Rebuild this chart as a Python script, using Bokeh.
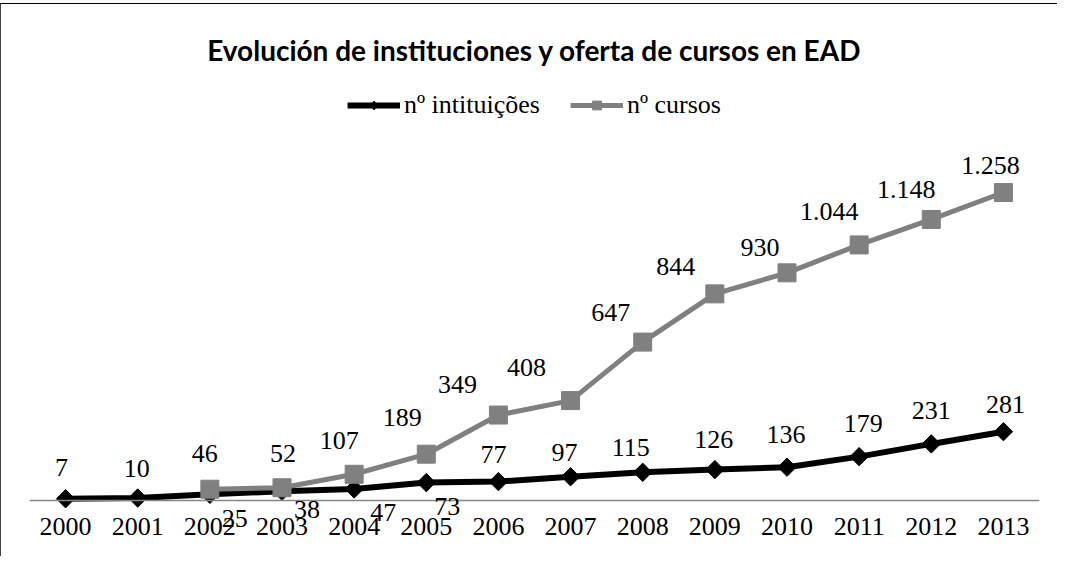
from bokeh.plotting import figure
from bokeh.models import ColumnDataSource, Legend, LegendItem, FactorRange, Range1d, LabelSet
from bokeh.embed import file_html
from bokeh.resources import INLINE
from bokeh.core.properties import value

# ---- data ----
years = ["2000", "2001", "2002", "2003", "2004", "2005", "2006",
         "2007", "2008", "2009", "2010", "2011", "2012", "2013"]
instituicoes = [7, 10, 25, 38, 47, 73, 77, 97, 115, 126, 136, 179, 231, 281]
curso_years = ["2002", "2003", "2004", "2005", "2006", "2007",
               "2008", "2009", "2010", "2011", "2012", "2013"]
cursos = [46, 52, 107, 189, 349, 408, 647, 844, 930, 1044, 1148, 1258]

# label offsets (screen px; dx right, dy up)
inst_dx = [-4, -1, 25, 25, 29, 21, -5, -6, -12, -1, -1, 4, 0, 2]
inst_dy = [31, 30, -24, -18, -24, -24, 27, 24, 25, 30, 33, 33, 33, 27]
curs_dx = [-5, 1, -15, -24, -41, -44, -32, -39, -27, -30, -25, -13]
curs_dy = [36, 34, 34, 37, 31, 33, 30, 27, 25, 33, 30, 27]


def fmt(v):
    return f"{v:,}".replace(",", ".")


SERIF = "Liberation Serif"
FS = "26px"

src_i = ColumnDataSource(dict(x=years, y=instituicoes,
                              lab=[fmt(v) for v in instituicoes],
                              dx=inst_dx, dy=inst_dy))
src_c = ColumnDataSource(dict(x=curso_years, y=cursos,
                              lab=[fmt(v) for v in cursos],
                              dx=curs_dx, dy=curs_dy))

p = figure(width=1057, height=553, output_backend="svg", toolbar_location=None,
           x_range=FactorRange(factors=years, range_padding=0),
           y_range=Range1d(-233, 1732),
           min_border_left=28, min_border_right=19, min_border_bottom=0,
           min_border_top=72,
           styles={"border-top": "1.5px solid #000000",
                   "border-left": "1.5px solid #404040",
                   "margin-top": "3px"})

p.title.text = "Evolución de instituciones y oferta de cursos en EAD"
p.title.align = "center"
p.title.text_font = "Lato"
p.title.text_font_style = "bold"
p.title.text_font_size = "28px"
p.title.text_color = "#000000"
p.title.standoff = 19

p.outline_line_color = None
p.grid.visible = False
p.yaxis.visible = False
p.background_fill_color = "white"
p.border_fill_color = "white"

xa = p.xaxis[0]
xa.fixed_location = 0
xa.axis_line_color = "#868686"
xa.axis_line_width = 1.5
xa.major_tick_line_color = None
xa.minor_tick_line_color = None
xa.major_tick_in = 0
xa.major_tick_out = 0
xa.major_label_text_font = SERIF
xa.major_label_text_font_size = FS
xa.major_label_text_color = "#000000"
xa.major_label_standoff = 18

l1 = p.line("x", "y", source=src_i, line_color="#000000", line_width=6)
m1 = p.scatter("x", "y", source=src_i, marker="square", angle=0.785398,
               size=13, fill_color="#000000", line_color="#000000")
l2 = p.line("x", "y", source=src_c, line_color="#808080", line_width=5)
m2 = p.scatter("x", "y", source=src_c, marker="square", size=18,
               fill_color="#808080", line_color="#808080")
# legend-only marker (diamond shape for the legend swatch)
m1_leg = p.scatter("x", "y", source=src_i, marker="diamond", size=21,
                   fill_color="#000000", line_color="#000000", visible=False)

for src in (src_i, src_c):
    ls = LabelSet(x="x", y="y", text="lab", source=src, x_offset="dx", y_offset="dy",
                  text_align="center", text_baseline="middle",
                  text_font=value(SERIF), text_font_size=FS, text_color="#000000")
    p.add_layout(ls)

legend = Legend(items=[LegendItem(label="nº intituições", renderers=[l1, m1_leg]),
                       LegendItem(label="nº cursos", renderers=[l2, m2])],
                location="top_center", orientation="horizontal",
                label_text_font=SERIF, label_text_font_size=FS,
                label_text_color="#000000",
                glyph_width=53, glyph_height=22, label_standoff=4, spacing=30,
                padding=0, margin=14, border_line_color=None,
                background_fill_alpha=0)
p.add_layout(legend)

open("out.html", "w").write(file_html(p, INLINE))
